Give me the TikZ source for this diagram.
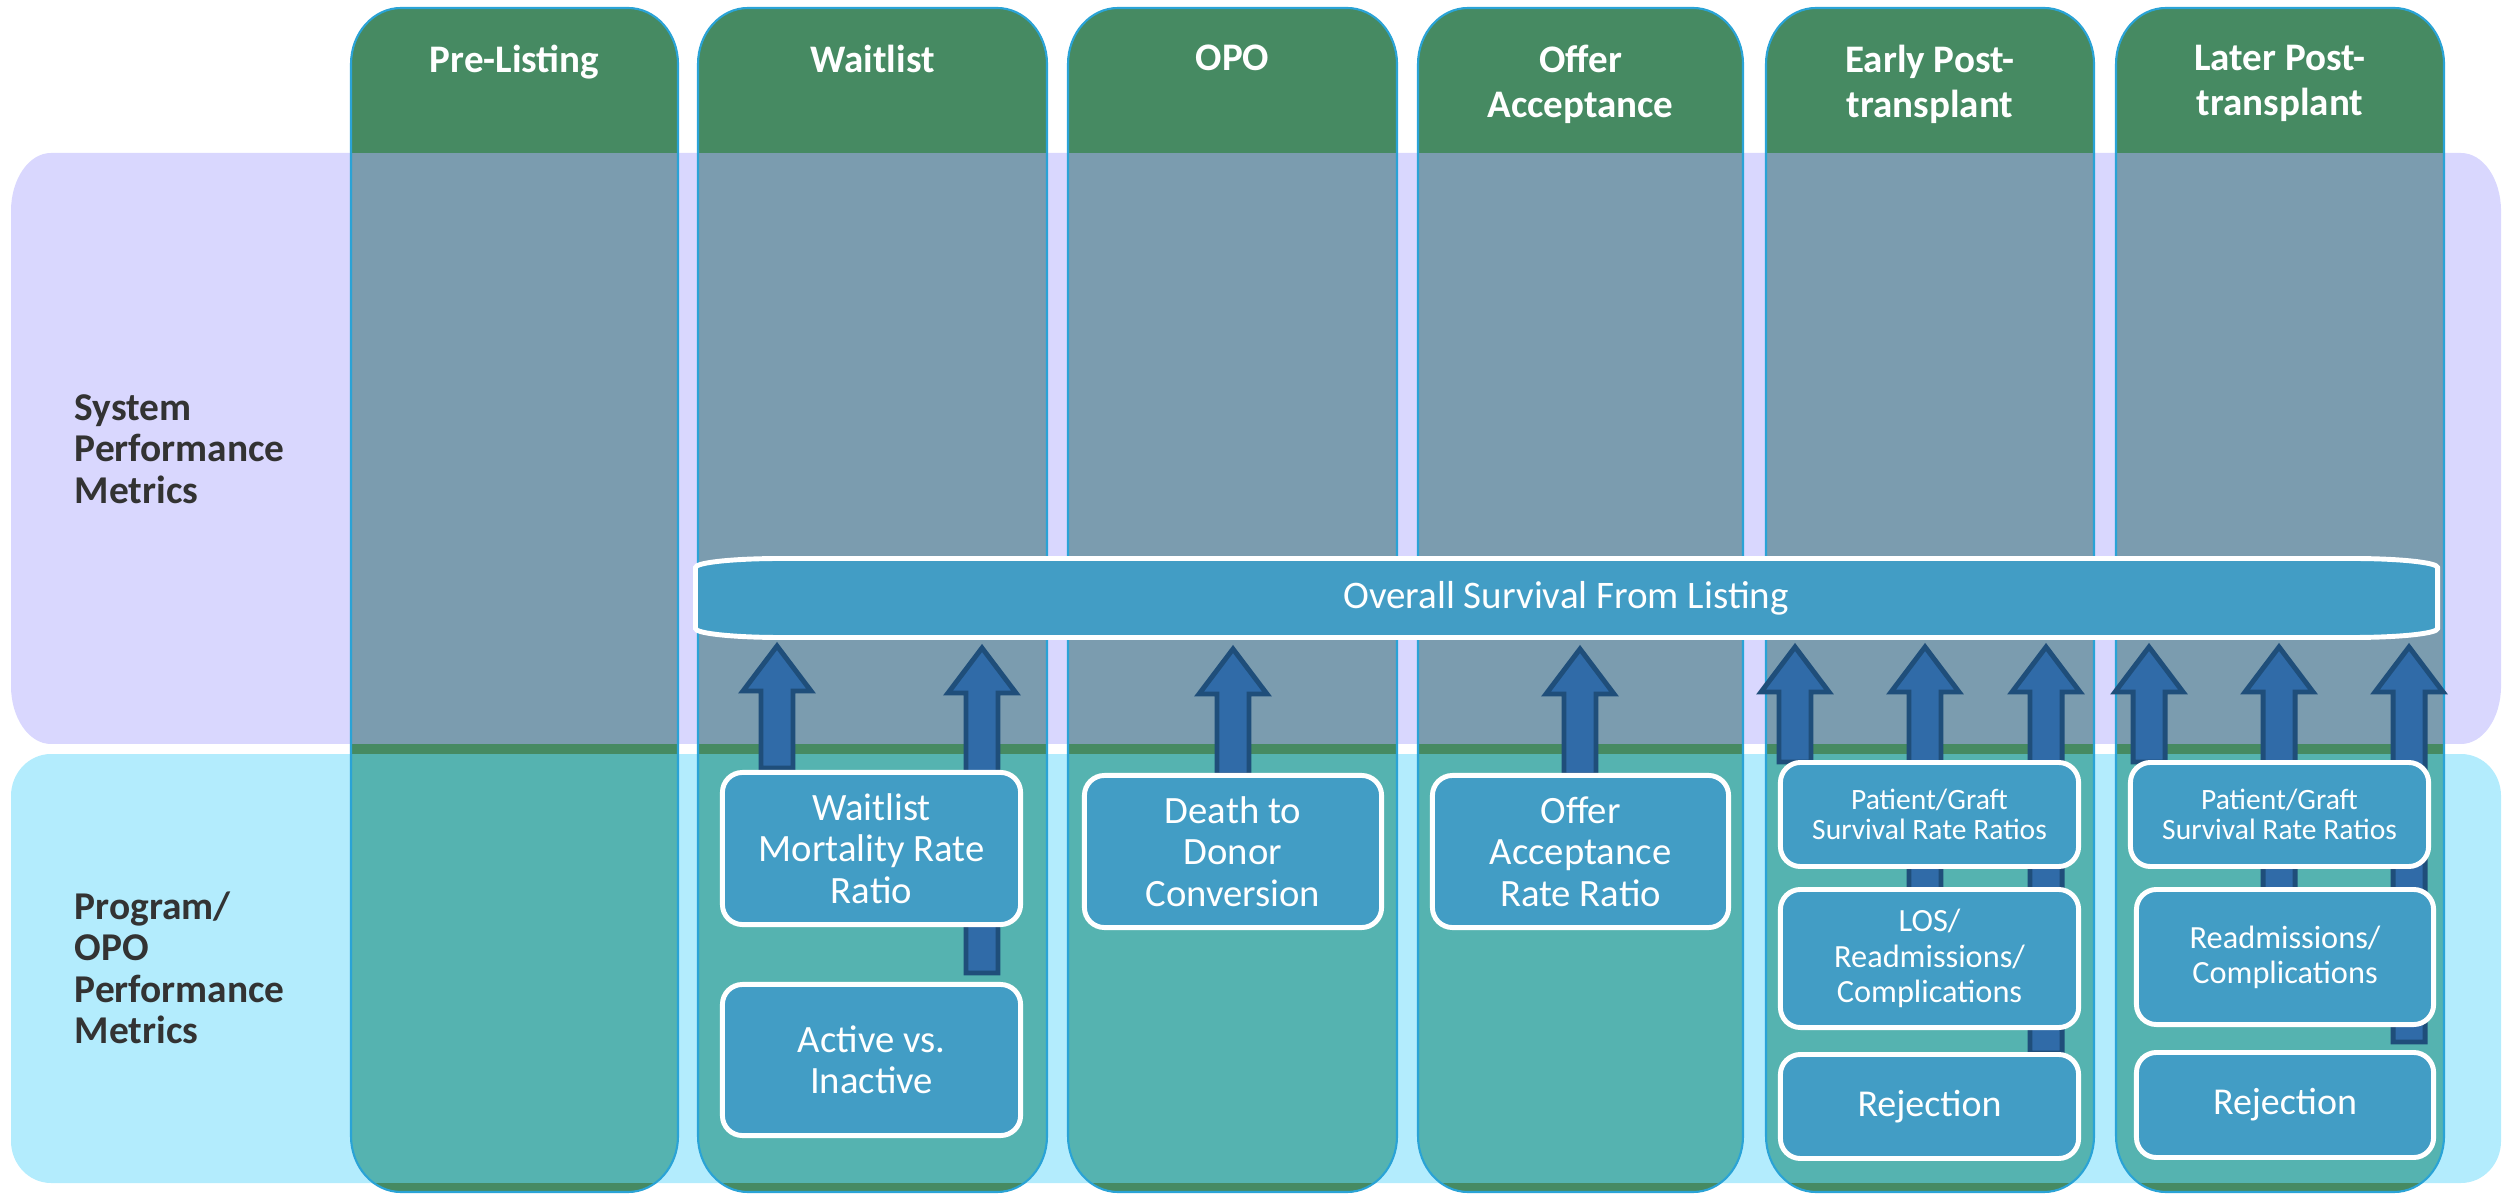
\documentclass[tikz,border=0pt]{standalone}
\usepackage{fontspec}
\setmainfont{Carlito}
\definecolor{hgreen}{HTML}{468A62}
\definecolor{sysov}{HTML}{7B9CAF}
\definecolor{progov}{HTML}{55B3B0}
\definecolor{lav}{HTML}{D9D7FE}
\definecolor{lblue}{HTML}{B3ECFD}
\definecolor{boxblue}{HTML}{429DC5}
\definecolor{arrfill}{HTML}{306BA8}
\definecolor{arrline}{HTML}{1F4E7A}
\definecolor{colline}{HTML}{2AA3D6}
\definecolor{labgray}{HTML}{333333}
\tikzset{
  erect/.style n args={6}{insert path={(#1,#2+#6) arc[start angle=180,end angle=270,x radius=#5,y radius=#6] -- (#3-#5,#2) arc[start angle=270,end angle=360,x radius=#5,y radius=#6] -- (#3,#4-#6) arc[start angle=0,end angle=90,x radius=#5,y radius=#6] -- (#1+#5,#4) arc[start angle=90,end angle=180,x radius=#5,y radius=#6] -- cycle}},
  hdr/.style={anchor=north, align=center, inner sep=0pt, text=white, font=\bfseries\fontsize{11.1}{12.8}\selectfont},
  lab/.style={anchor=west, align=left, inner sep=0pt, text=labgray, font=\bfseries\fontsize{11.2}{11.8}\selectfont},
  mbox/.style={draw=white, line width=1.4pt, fill=boxblue, rounded corners=0.2cm, text=white, align=center, inner sep=0pt},
  bigtxt/.style={font=\fontsize{11}{11.8}\selectfont},
  smalltxt/.style={font=\fontsize{8.4}{8.4}\selectfont},
  midtxt/.style={font=\fontsize{9.2}{10}\selectfont},
  rejtxt/.style={font=\fontsize{10.8}{12}\selectfont},
  arr/.style={fill=arrfill, draw=arrline, line width=1.4pt}
}
\newcommand\uparr[3]{\draw[arr] (#1,#2) -- (#1+34,#2+45) -- (#1+16,#2+45) -- (#1+16,#3) -- (#1-16,#3) -- (#1-16,#2+45) -- (#1-34,#2+45) -- cycle;}
\begin{document}
\begin{tikzpicture}[x=0.01cm,y=-0.01cm]
\useasboundingbox (0,0) rectangle (2504,1195);
% bands
\fill[lav, erect={11}{153}{2501}{744}{40}{58}];
\fill[lblue, erect={11}{754}{2501}{1183}{40}{42}];
% columns
\foreach \xa/\xb in {351/678, 698/1047, 1068/1397, 1418/1743, 1766/2094, 2116/2444} {
  \begin{scope}
    \clip[erect={\xa}{8}{\xb}{1192}{50}{56}];
    \fill[hgreen] (\xa,0) rectangle (\xb,1195);
    \fill[sysov] (\xa,153) rectangle (\xb,744);
    \fill[progov] (\xa,754) rectangle (\xb,1183);
  \end{scope}
  \draw[colline, line width=0.6pt, erect={\xa}{8}{\xb}{1192}{50}{56}];
}
% headers
\node[hdr] (h1) at (514.5,44) {Pre-Listing};
\node[hdr] (h2) at (872.5,44) {Waitlist};
\node[hdr] (h3) at (1232.5,44) {OPO};
\node[hdr] (h4) at (1580.5,44) {Offer\\Acceptance};
\node[hdr] (h5) at (1930,44) {Early Post-\\transplant};
\node[hdr] (h6) at (2280,44) {Later Post-\\transplant};
% row labels
\node[lab] (sys) at (74,449) {System\\Performance\\Metrics};
\node[lab] (prog) at (74,968) {Program/\\OPO\\Performance\\Metrics};
% overall bar
\draw[white, line width=1.4pt, fill=boxblue, erect={695.5}{558.5}{2437.5}{637.5}{85}{9}];
\node[text=white, inner sep=0pt, font=\fontsize{11.1}{12}\selectfont] (osl) at (1566,598) {Overall Survival From Listing};
% arrows
\uparr{777}{646}{768}
\uparr{982}{648}{973}
\uparr{1233}{649}{775}
\uparr{1580}{649}{775}
\uparr{1795}{647}{762}
\uparr{1925}{647}{950}
\uparr{2046}{647}{1053}
\uparr{2149}{647}{762}
\uparr{2279}{647}{950}
\uparr{2409}{647}{1042}
% boxes
\node[mbox, bigtxt, minimum width=2.98cm, minimum height=1.52cm] (wmr) at (871.5,848.5) {Waitlist\\Mortality Rate\\Ratio};
\node[mbox, bigtxt, minimum width=2.98cm, minimum height=1.51cm] (avi) at (871.5,1060) {Active vs.\\Inactive};
\node[mbox, bigtxt, minimum width=2.97cm, minimum height=1.52cm] (ddc) at (1233,851.5) {Death to\\Donor\\Conversion};
\node[mbox, bigtxt, minimum width=2.96cm, minimum height=1.52cm] (oar) at (1580.5,851.5) {Offer\\Acceptance\\Rate Ratio};
\node[mbox, smalltxt, minimum width=2.98cm, minimum height=1.04cm] (epg) at (1929.5,814.5) {Patient/Graft\\Survival Rate Ratios};
\node[mbox, midtxt, minimum width=2.98cm, minimum height=1.38cm] (elos) at (1929.5,958.5) {LOS/\\Readmissions/\\Complications};
\node[mbox, rejtxt, minimum width=2.98cm, minimum height=1.04cm] (erej) at (1929.5,1106.5) {Rejection};
\node[mbox, smalltxt, minimum width=2.98cm, minimum height=1.04cm] (lpg) at (2279.5,814.5) {Patient/Graft\\Survival Rate Ratios};
\node[mbox, midtxt, minimum width=2.97cm, minimum height=1.35cm] (lrc) at (2285,957) {Readmissions/\\Complications};
\node[mbox, rejtxt, minimum width=2.97cm, minimum height=1.05cm] (lrej) at (2285,1105) {Rejection};
\end{tikzpicture}
\end{document}
